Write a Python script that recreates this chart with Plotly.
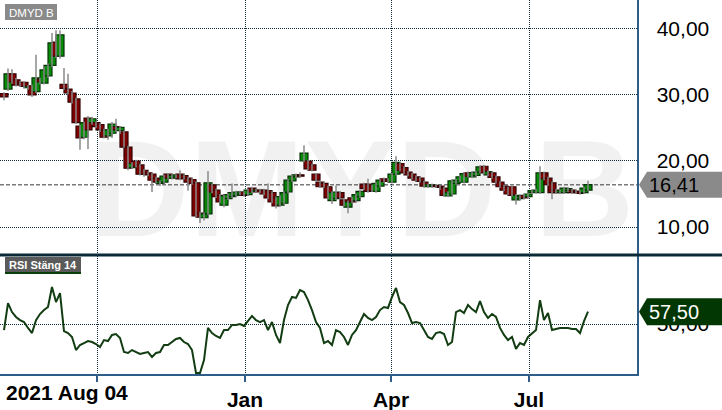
import plotly.graph_objects as go

# ---------------- data ----------------
ticker = "DMYD B"
rsi_label = "RSI Stäng 14"
tick_labels = ["2021 Aug 04", "Jan", "Apr", "Jul"]
tick_pos = [23.25, 60.25, 96.75, 131.25]   # position of month boundaries in candle index units

open_ = [30.2, 30.9, 33.2, 32.3, 31.9, 31.9, 31.1, 31.4, 30.5, 32.4,
         31.8, 32.9, 34.5, 38.0, 35.9, 31.6, 30.9, 30.3, 29.4, 25.3,
         23.6, 26.5, 25.8, 25.8, 25.5, 24.7, 23.8, 24.2, 25.2, 24.6,
         24.4, 22.1, 19.0, 20.0, 19.4, 18.6, 18.2, 18.0, 17.4, 16.6,
         16.8, 18.0, 17.4, 17.6, 18.0, 17.8, 17.4, 17.2, 16.7, 12.1,
         11.4, 12.0, 16.4, 15.6, 14.8, 13.3, 14.3, 14.6, 14.8, 15.0,
         15.3, 14.9, 15.9, 15.4, 15.6, 15.6, 15.5, 15.2, 14.4, 13.3,
         13.6, 15.3, 17.0, 17.6, 17.9, 20.0, 20.0, 19.4, 18.0, 16.8,
         16.6, 16.1, 14.0, 14.3, 15.2, 14.1, 13.0, 14.4, 14.0, 14.6,
         16.5, 16.5, 16.2, 15.4, 16.2, 17.3, 17.2, 16.8, 18.0, 19.6,
         19.0, 18.3, 18.0, 17.6, 17.4, 16.8, 16.1, 16.2, 16.3, 16.2,
         15.9, 14.7, 15.0, 16.6, 17.0, 16.8, 18.2, 17.6, 17.8, 18.3,
         19.2, 17.9, 18.2, 17.6, 16.8, 16.2, 15.9, 16.1, 14.1, 14.3,
         14.8, 14.6, 15.2, 15.3, 15.2, 18.2, 17.4, 16.7, 15.6, 15.2,
         15.2, 15.5, 15.6, 15.4, 15.4, 15.2, 15.6]
high = [30.4, 34.0, 33.9, 32.6, 32.1, 32.0, 31.5, 31.6, 36.1, 32.6,
        34.3, 34.8, 39.4, 39.8, 39.8, 34.1, 33.2, 30.6, 29.6, 25.5,
        26.0, 26.8, 26.7, 26.0, 25.7, 24.9, 24.9, 25.9, 26.4, 25.3,
        24.6, 22.3, 19.8, 20.2, 19.6, 18.8, 18.4, 18.2, 17.6, 17.1,
        17.9, 18.2, 18.0, 18.0, 18.6, 18.0, 17.6, 17.4, 16.9, 12.3,
        12.2, 18.5, 16.6, 15.8, 15.0, 14.9, 15.1, 16.6, 15.5, 15.5,
        15.5, 15.8, 16.1, 15.8, 15.8, 15.8, 16.6, 15.4, 14.6, 14.8,
        15.4, 17.3, 17.9, 18.1, 18.3, 22.4, 20.2, 19.6, 18.2, 17.0,
        16.8, 16.3, 15.4, 16.3, 15.4, 14.3, 14.0, 14.6, 15.1, 15.6,
        16.7, 17.3, 16.4, 16.8, 17.3, 17.5, 17.4, 18.2, 20.7, 19.8,
        19.2, 18.5, 18.2, 17.8, 17.6, 17.0, 16.6, 16.6, 16.5, 16.4,
        16.1, 15.4, 17.2, 17.3, 17.8, 18.3, 18.4, 18.4, 18.5, 19.3,
        19.4, 18.6, 18.4, 17.8, 17.0, 16.4, 16.1, 16.3, 15.0, 14.8,
        15.0, 15.2, 15.7, 15.8, 19.2, 18.4, 17.6, 16.9, 15.8, 15.7,
        16.1, 16.0, 15.8, 15.6, 15.6, 16.1, 17.0]
low = [29.2, 30.6, 31.7, 31.3, 31.2, 31.0, 30.8, 29.7, 30.3, 31.6,
       31.6, 32.6, 34.2, 35.6, 35.5, 30.8, 30.1, 28.7, 25.6, 21.7,
       23.3, 21.8, 25.5, 25.0, 24.4, 23.4, 23.2, 23.5, 24.4, 24.1,
       22.0, 18.6, 18.8, 19.0, 17.8, 17.6, 17.7, 15.3, 16.6, 16.2,
       16.6, 17.2, 17.2, 17.4, 17.1, 17.2, 15.5, 16.4, 11.5, 10.6,
       11.0, 11.8, 15.1, 14.4, 13.6, 13.0, 14.1, 14.4, 14.6, 14.8,
       14.6, 14.7, 15.1, 15.2, 15.1, 14.8, 14.2, 13.6, 12.8, 13.1,
       13.4, 15.1, 16.8, 17.4, 17.5, 19.8, 18.6, 18.4, 16.9, 15.9,
       15.9, 14.2, 13.5, 14.1, 14.2, 13.1, 12.1, 13.6, 13.8, 14.4,
       15.6, 15.2, 15.3, 15.2, 16.0, 16.7, 16.7, 16.6, 17.8, 18.4,
       18.0, 17.7, 17.2, 16.9, 16.7, 16.0, 15.9, 16.0, 15.9, 15.6,
       14.6, 14.5, 14.8, 16.4, 16.8, 16.6, 17.5, 17.4, 17.6, 18.1,
       18.0, 17.7, 17.3, 16.6, 15.9, 15.4, 14.8, 14.6, 13.4, 14.1,
       14.2, 14.4, 15.0, 15.1, 15.0, 17.1, 16.2, 14.2, 15.0, 15.0,
       15.0, 15.3, 15.0, 15.0, 14.9, 15.0, 15.4]
close = [29.7, 33.2, 32.0, 31.5, 31.6, 31.3, 31.3, 30.0, 32.6, 32.0,
         33.8, 34.5, 37.9, 35.9, 39.1, 31.0, 30.3, 28.9, 25.8, 23.5,
         25.8, 24.7, 26.4, 25.2, 24.7, 23.6, 24.7, 25.6, 24.7, 25.1,
         22.1, 18.9, 19.6, 19.2, 18.0, 18.0, 17.9, 17.1, 16.8, 16.9,
         17.7, 17.4, 17.8, 17.9, 17.3, 17.4, 16.8, 16.6, 11.7, 11.5,
         12.0, 16.7, 15.3, 14.6, 13.8, 14.7, 14.9, 15.2, 15.3, 15.3,
         14.8, 15.6, 15.3, 15.6, 15.3, 15.0, 14.4, 13.8, 13.2, 14.6,
         15.2, 17.1, 17.7, 17.9, 17.7, 21.2, 18.8, 18.6, 17.1, 16.1,
         16.1, 14.4, 15.2, 15.3, 14.4, 13.3, 13.8, 13.8, 14.9, 15.4,
         15.8, 15.4, 15.5, 16.6, 17.1, 16.9, 16.9, 18.0, 19.8, 18.6,
         18.2, 17.9, 17.4, 17.1, 16.9, 16.2, 16.4, 16.4, 16.1, 16.0,
         14.8, 15.2, 17.0, 17.1, 17.6, 18.1, 17.7, 18.2, 18.3, 19.1,
         18.2, 18.4, 17.5, 16.8, 16.1, 15.6, 15.0, 14.8, 14.8, 14.6,
         14.4, 15.0, 15.5, 15.6, 18.2, 17.3, 16.4, 15.2, 15.2, 15.5,
         15.9, 15.8, 15.2, 15.2, 15.1, 15.9, 16.41]
rsi = [46.3, 62.8, 57.3, 54.3, 52.4, 51.2, 47.6, 44.5, 52.4, 56.1,
       58.5, 60.4, 72.6, 63.4, 68.9, 45.7, 44.5, 42.1, 34.1, 37.2,
       38.4, 39.6, 39.0, 37.8, 36.0, 40.2, 39.6, 43.3, 43.9, 41.5,
       32.9, 32.3, 34.1, 32.9, 31.7, 32.3, 32.9, 29.9, 32.3, 32.9,
       37.2, 37.2, 39.0, 40.9, 41.5, 39.0, 37.8, 34.1, 20.1, 20.1,
       28.0, 47.6, 44.5, 42.7, 41.5, 46.3, 46.3, 49.4, 49.4, 50.0,
       48.8, 51.8, 54.9, 52.4, 51.2, 52.4, 46.3, 51.2, 43.3, 38.4,
       52.4, 61.6, 66.5, 65.9, 70.7, 69.5, 64.6, 58.5, 51.2, 47.6,
       38.4, 39.6, 37.2, 46.3, 45.1, 42.1, 37.2, 43.3, 46.3, 51.2,
       56.1, 53.7, 52.4, 54.3, 58.5, 60.4, 59.8, 66.5, 72.0, 63.4,
       61.6, 56.7, 50.6, 51.2, 50.6, 46.3, 42.1, 40.9, 44.5, 45.1,
       43.9, 37.2, 39.0, 57.3, 58.5, 56.7, 61.6, 59.1, 57.3, 64.0,
       57.3, 53.7, 56.1, 54.3, 47.6, 43.3, 40.2, 42.1, 34.8, 38.4,
       37.2, 42.1, 44.5, 46.3, 64.6, 52.4, 56.7, 46.3, 47.0, 47.6,
       47.6, 47.6, 47.0, 47.0, 44.5, 51.8, 57.5]

price_ticks = [10, 20, 30, 40]
rsi_ticks = [50]

# ---------------- geometry helpers ----------------
W, H = 722, 410
def px(x):
    return x / W
def py(y):
    return 1 - y / H

n = min(len(open_), len(high), len(low), len(close), len(rsi))
idx = list(range(n))
x_range = [-1, 158.25]
price_range = [5.91, 44.39]
rsi_range = [19.5, 91.5]

GRID = "#0d2d3d"
AXBLUE = "#2f5d8a"
FONT = "Liberation Sans, Arial, sans-serif"

def fmt(v):
    return f"{v:.2f}".replace(".", ",")

# ---------------- traces ----------------
fig = go.Figure()

# watermark (drawn first, behind candles)
wm_x = x_range[0] + (362 / 637) * (x_range[1] - x_range[0])
wm_y = price_range[1] - (201 / 254) * (price_range[1] - price_range[0])
fig.add_trace(go.Scatter(
    x=[wm_x], y=[wm_y], mode="text", text=[ticker],
    textfont=dict(size=138, color="rgba(0,0,0,0.055)", family=FONT, weight="bold"),
    hoverinfo="skip", showlegend=False, xaxis="x", yaxis="y"))

# wicks
wx, wy = [], []
for i in idx:
    wx += [i, i, None]
    wy += [low[i], high[i], None]
fig.add_trace(go.Scatter(x=wx, y=wy, mode="lines",
                         line=dict(color="#8a8a8a", width=1.5),
                         hoverinfo="skip", showlegend=False, xaxis="x", yaxis="y"))

# bodies
base, hgt, fills, edges = [], [], [], []
for i in idx:
    o, c = open_[i], close[i]
    base.append(min(o, c))
    hgt.append(max(abs(c - o), 0.18))
    if c >= o:
        fills.append("#078a07"); edges.append("#053505")
    else:
        fills.append("#800000"); edges.append("#360202")
fig.add_trace(go.Bar(x=idx, y=hgt, base=base, width=2.0,
                     marker=dict(color=fills, line=dict(color=edges, width=1.2)),
                     hoverinfo="skip", showlegend=False, xaxis="x", yaxis="y"))

# RSI
fig.add_trace(go.Scatter(x=idx, y=rsi[:n], mode="lines",
                         line=dict(color="#123c12", width=2),
                         hoverinfo="skip", showlegend=False, xaxis="x2", yaxis="y2"))

# ---------------- layout ----------------
dom_x = [0, px(637)]
grid_common = dict(showgrid=True, gridcolor=GRID, gridwidth=1, griddash="1px,1px", zeroline=False)

fig.update_layout(
    width=W, height=H, autosize=False,
    margin=dict(l=0, r=0, t=0, b=0, pad=0),
    paper_bgcolor="white", plot_bgcolor="white",
    separators=", ",
    barmode="overlay",
    showlegend=False,
    hovermode=False,
    font=dict(family=FONT, color="black"),
    xaxis=dict(domain=dom_x, range=x_range, anchor="y", tickvals=tick_pos,
               showticklabels=False, ticks="", showline=False, **grid_common),
    xaxis2=dict(domain=dom_x, range=x_range, anchor="y2", tickvals=tick_pos,
                ticktext=[""] + tick_labels[1:],
                ticks="outside", ticklen=6, tickwidth=1.5, tickcolor=AXBLUE,
                showline=True, linecolor=AXBLUE, linewidth=1.5,
                tickfont=dict(size=21, family=FONT, color="black", weight="bold"),
                **grid_common),
    yaxis=dict(domain=[py(254), 1], range=price_range, anchor="x", side="right",
               tickvals=price_ticks, tickformat=".2f", ticks="",
               ticklabelstandoff=14,
               tickfont=dict(size=21, family=FONT, color="black"),
               showline=True, linecolor=AXBLUE, linewidth=1.5, **grid_common),
    yaxis2=dict(domain=[py(374), py(256)], range=rsi_range, anchor="x2", side="right",
                tickvals=rsi_ticks, tickformat=".2f", ticks="",
                ticklabelstandoff=14,
                tickfont=dict(size=21, family=FONT, color="black"),
                showline=True, linecolor=AXBLUE, linewidth=1.5, **grid_common),
)

shapes = []
last = close[n - 1]
# last price dashed line
shapes.append(dict(type="line", xref="paper", yref="y", x0=0, x1=px(637), y0=last, y1=last,
                   line=dict(color="#7a7a7a", width=1.5, dash="4px,2px"), layer="below"))
# separator between panels
shapes.append(dict(type="line", xref="paper", yref="paper", x0=0, x1=1, y0=py(255), y1=py(255),
                   line=dict(color="#0b2a38", width=3), layer="above"))
# price tag
hp = 13 / 6.6
shapes.append(dict(type="path", xref="paper", yref="y",
                   path=f"M {px(639)},{last} L {px(647)},{last + hp} L 1,{last + hp} "
                        f"L 1,{last - hp} L {px(647)},{last - hp} Z",
                   fillcolor="#8a8a8a", line=dict(width=0), layer="above"))
# RSI tag
last_rsi = rsi[n - 1]
hr = 13.5 / 1.64
shapes.append(dict(type="path", xref="paper", yref="y2",
                   path=f"M {px(639)},{last_rsi} L {px(647)},{last_rsi + hr} L 1,{last_rsi + hr} "
                        f"L 1,{last_rsi - hr} L {px(647)},{last_rsi - hr} Z",
                   fillcolor="#023602", line=dict(width=0), layer="above"))
# ticker label box
shapes.append(dict(type="rect", xref="paper", yref="paper", x0=px(5), x1=px(57), y0=py(20), y1=py(4),
                   fillcolor="#8a8a8a", line=dict(width=0), layer="above"))
# RSI label box
shapes.append(dict(type="rect", xref="paper", yref="paper", x0=px(5), x1=px(81), y0=py(272), y1=py(257),
                   fillcolor="#5a5a5a", line=dict(width=0), layer="above"))
shapes.append(dict(type="rect", xref="paper", yref="paper", x0=px(5), x1=px(81), y0=py(274), y1=py(272),
                   fillcolor="#0b3d0b", line=dict(width=0), layer="above"))
fig.update_layout(shapes=shapes)

annotations = [
    dict(text=ticker, xref="paper", yref="paper", x=px(31), y=py(12.5), xanchor="center", yanchor="middle",
         showarrow=False, font=dict(size=11.5, color="white", family=FONT)),
    dict(text=rsi_label, xref="paper", yref="paper", x=px(43), y=py(265), xanchor="center", yanchor="middle",
         showarrow=False, font=dict(size=11, color="white", family=FONT, weight="bold")),
    dict(text=fmt(last), xref="paper", yref="y", x=px(647), y=last, xanchor="left", yanchor="middle",
         showarrow=False, font=dict(size=20, color="black", family=FONT)),
    dict(text=fmt(last_rsi), xref="paper", yref="y2", x=px(647), y=last_rsi, xanchor="left", yanchor="middle",
         showarrow=False, font=dict(size=20, color="white", family=FONT)),
    dict(text=tick_labels[0], xref="paper", yref="paper", x=px(4), y=py(392), xanchor="left", yanchor="middle",
         showarrow=False, font=dict(size=21, color="black", family=FONT, weight="bold")),
]
fig.update_layout(annotations=annotations)

fig.write_html("out.html", config={"displayModeBar": False, "staticPlot": True},
               post_script="document.body.style.margin='0px';document.body.style.overflow='hidden';")
